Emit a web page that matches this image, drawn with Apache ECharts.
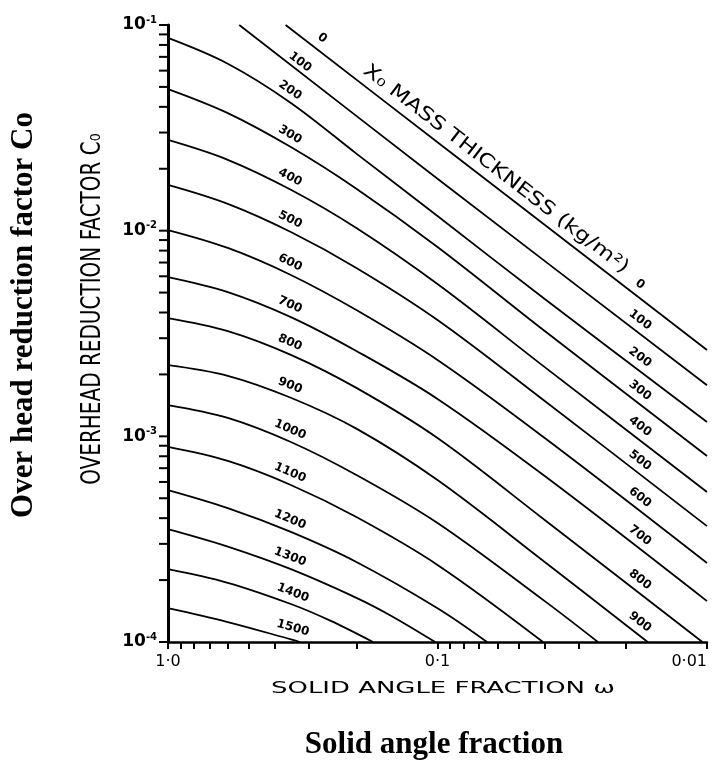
<!DOCTYPE html>
<html>
<head>
<meta charset="utf-8">
<title>Overhead reduction factor</title>
<script src="https://cdn.jsdelivr.net/npm/echarts@6.0.0/dist/echarts.min.js"></script>
<style>
  html, body { margin: 0; padding: 0; background: #fff; }
  #chart { width: 716px; height: 765px; }
</style>
</head>
<body>
<div id="chart"></div>
<script>
// mass thickness X0 (kg/m2) of each curve
const thickness = [0, 100, 200, 300, 400, 500, 600, 700, 800, 900, 1000, 1100, 1200, 1300, 1400, 1500];

// [solid angle fraction w, overhead reduction factor Co]
const curve0 = [[0.366, 0.1], [0.1, 0.0269], [0.01, 0.00263]];
const curve100 = [[0.544, 0.1], [0.1, 0.0179], [0.01, 0.00177]];
const curve200 = [[1, 0.0865], [0.6, 0.0648], [0.35, 0.0418], [0.2, 0.0237], [0.1, 0.01178], [0.04, 0.00465], [0.01, 0.001174]];
const curve300 = [[1, 0.0488], [0.6, 0.0373], [0.35, 0.0255], [0.2, 0.016], [0.1, 0.00833], [0.04, 0.00325], [0.01, 0.000802]];
const curve400 = [[1, 0.0276], [0.6, 0.0221], [0.35, 0.0158], [0.2, 0.0103], [0.1, 0.0055], [0.04, 0.00217], [0.01, 0.000536]];
const curve500 = [[1, 0.0167], [0.6, 0.0135], [0.35, 0.00985], [0.2, 0.00659], [0.1, 0.00368], [0.04, 0.001485], [0.01, 0.000366]];
const curve600 = [[1, 0.01007], [0.6, 0.00824], [0.35, 0.00609], [0.2, 0.00411], [0.1, 0.00235], [0.04, 0.000981], [0.01, 0.000242]];
const curve700 = [[1, 0.00595], [0.6, 0.00503], [0.35, 0.0038], [0.2, 0.0026], [0.1, 0.00152], [0.04, 0.000641], [0.01, 0.000158]];
const curve800 = [[1, 0.00376], [0.6, 0.00325], [0.35, 0.00249], [0.2, 0.00172], [0.1, 0.000981], [0.04, 0.000392], [0.0104, 0.0001]];
const curve900 = [[1, 0.00222], [0.6, 0.00197], [0.35, 0.00154], [0.2, 0.00109], [0.1, 0.000613], [0.04, 0.000245], [0.0166, 0.0001]];
const curve1000 = [[1, 0.00142], [0.6, 0.00123], [0.35, 0.000939], [0.2, 0.000649], [0.1, 0.000379], [0.04, 0.000158], [0.0254, 0.0001]];
const curve1100 = [[1, 0.000888], [0.6, 0.000759], [0.35, 0.00058], [0.2, 0.000405], [0.1, 0.000237], [0.0406, 0.0001]];
const curve1200 = [[1, 0.000548], [0.6, 0.000448], [0.35, 0.000343], [0.2, 0.000245], [0.1, 0.000146], [0.0655, 0.0001]];
const curve1300 = [[1, 0.000354], [0.6, 0.000291], [0.35, 0.000226], [0.2, 0.000164], [0.15, 0.000135], [0.102, 0.0001]];
const curve1400 = [[1, 0.000226], [0.6, 0.000194], [0.35, 0.000153], [0.25, 0.000127], [0.1735, 0.0001]];
const curve1500 = [[1, 0.000146], [0.6, 0.000125], [0.35, 0.000103], [0.324, 0.0001]];

const curves = [curve0, curve100, curve200, curve300, curve400, curve500, curve600, curve700,
  curve800, curve900, curve1000, curve1100, curve1200, curve1300, curve1400, curve1500];

// tick labels
const xLabelValues = [1, 0.1, 0.01];
const xLabelText = ["1·0", "0·1", "0·01"];
const yLabelValues = [0.1, 0.01, 0.001, 0.0001];
const yLabelExp = ["-1", "-2", "-3", "-4"];

// curves labelled at the right hand end
const rightLabelled = [0, 100, 200, 300, 400, 500, 600, 700, 800, 900];

// 1..9 ticks in every decade
function decadeTicks(lo, hi) {
  const out = [];
  for (let e = lo; e < hi; e++) {
    for (let m = 1; m < 10; m++) out.push(+(m * Math.pow(10, e)).toPrecision(3));
  }
  out.push(Math.pow(10, hi));
  return out;
}
const yTickValues = decadeTicks(-4, -1);

function findIdx(list, v) {
  return list.findIndex((u) => Math.abs(Math.log10(u) - Math.log10(v)) < 1e-6);
}

const chart = echarts.init(document.getElementById("chart"));

const option = {
  animation: false,
  backgroundColor: "#fff",
  grid: { left: 168, right: 9, top: 25, bottom: 123, containLabel: false, outerBoundsMode: "none" },
  xAxis: {
    type: "log",
    logBase: 10,
    min: 0.01,
    max: 1,
    inverse: true,
    axisLine: { show: true, lineStyle: { color: "#000", width: 2.5 } },
    axisTick: { show: true, customValues: decadeTicks(-2, 0), length: 7, lineStyle: { color: "#000", width: 2 } },
    axisLabel: {
      customValues: xLabelValues,
      margin: 12,
      color: "#000",
      fontSize: 16,
      fontFamily: "DejaVu Sans",
      alignMaxLabel: "right",
      formatter: (v) => {
        const i = findIdx(xLabelValues, v);
        return i < 0 ? "" : xLabelText[i];
      },
    },
    splitLine: { show: false },
  },
  yAxis: {
    type: "log",
    logBase: 10,
    min: 0.0001,
    max: 0.1,
    axisLine: { show: true, lineStyle: { color: "#000", width: 3 } },
    axisTick: { show: false },
    axisLabel: {
      customValues: yLabelValues,
      margin: 11,
      color: "#000",
      formatter: (v) => {
        const i = findIdx(yLabelValues, v);
        return i < 0 ? "" : "{b|10}{s|" + yLabelExp[i] + "}";
      },
      rich: {
        b: { fontSize: 17, fontWeight: "bold", fontFamily: "DejaVu Sans", color: "#000" },
        s: { fontSize: 10, fontWeight: "bold", fontFamily: "DejaVu Sans", color: "#000", padding: [0, 0, 10, 0] },
      },
    },
    splitLine: { show: false },
  },
  series: curves.map((c, i) => ({
    name: String(thickness[i]),
    type: "line",
    data: c,
    symbol: "none",
    smooth: 0.35,
    silent: true,
    lineStyle: { color: "#000", width: 1.8 },
  })),
};

chart.setOption(option);

// log-log interpolation along a curve, only used to place the labels
function along(data, w) {
  const lw = Math.log10(w);
  for (let i = 0; i < data.length - 1; i++) {
    const la = Math.log10(data[i][0]);
    const lb = Math.log10(data[i + 1][0]);
    if (lw <= la && lw >= lb) {
      const t = (lw - la) / (lb - la);
      const ca = Math.log10(data[i][1]);
      const cb = Math.log10(data[i + 1][1]);
      return Math.pow(10, ca + t * (cb - ca));
    }
  }
  return null;
}

function px(data, w) {
  const first = data[0][0];
  const last = data[data.length - 1][0];
  const ww = Math.min(first, Math.max(last, w));
  return chart.convertToPixel({ gridIndex: 0 }, [ww, along(data, ww)]);
}

function onCurve(text, data, w, lift, font, scaleX) {
  const p = px(data, w);
  const p1 = px(data, w * 1.12);
  const p2 = px(data, w / 1.12);
  const ang = Math.atan2(p2[1] - p1[1], p2[0] - p1[0]);
  return {
    type: "text",
    x: p[0],
    y: p[1] - lift,
    rotation: -ang,
    scaleX: scaleX || 1,
    silent: true,
    style: { text: text, fill: "#000", font: font, align: "center", verticalAlign: "middle" },
  };
}

const numFont = "bold 12px 'DejaVu Sans'";
const graphics = [];

// y axis ticks on the left of the axis line, placed through the axis scale
yTickValues.forEach((v) => {
  const yPix = chart.convertToPixel({ yAxisIndex: 0 }, v);
  const xPix = chart.convertToPixel({ xAxisIndex: 0 }, 1);
  graphics.push({
    type: "rect",
    silent: true,
    z: 100,
    shape: { x: xPix - 9, y: yPix - 1, width: 9, height: 2 },
    style: { fill: "#000" },
  });
});

// left column of curve labels
thickness.forEach((t, i) => {
  let w = 0.3525, lift = 12;
  if (t === 0) { w = 0.268; lift = 15; }
  if (t === 100) { w = 0.3237; lift = 10; }
  if (t >= 1400) { w = 0.344; }
  graphics.push(onCurve(String(t), curves[i], w, lift, numFont));
});

// right column of curve labels
rightLabelled.forEach((t) => {
  const i = thickness.indexOf(t);
  graphics.push(onCurve(String(t), curves[i], 0.01773, 14, numFont));
});

// label running along the X0 = 0 line
graphics.push(onCurve("X₀ MASS THICKNESS (kg/m²)", curve0, 0.0607, 18, "19px 'DejaVu Sans'", 1.22));

// axis titles
graphics.push({
  type: "text", x: 443, y: 689, scaleX: 1.62, silent: true,
  style: { text: "SOLID ANGLE FRACTION ω", fill: "#000", font: "16px 'DejaVu Sans'", align: "center", verticalAlign: "middle" },
});
graphics.push({
  type: "text", x: 93, y: 309, rotation: Math.PI / 2, scaleY: 1.3, silent: true,
  style: { text: "OVERHEAD REDUCTION FACTOR C₀", fill: "#000", font: "20px 'DejaVu Sans'", align: "center", verticalAlign: "middle" },
});
graphics.push({
  type: "text", x: 434, y: 745, silent: true,
  style: { text: "Solid angle fraction", fill: "#000", font: "bold 31px 'Liberation Serif'", align: "center", verticalAlign: "middle" },
});
graphics.push({
  type: "text", x: 24, y: 315, rotation: Math.PI / 2, silent: true,
  style: { text: "Over head reduction factor Co", fill: "#000", font: "bold 31px 'Liberation Serif'", align: "center", verticalAlign: "middle" },
});

chart.setOption({ graphic: graphics });
</script>
</body>
</html>
